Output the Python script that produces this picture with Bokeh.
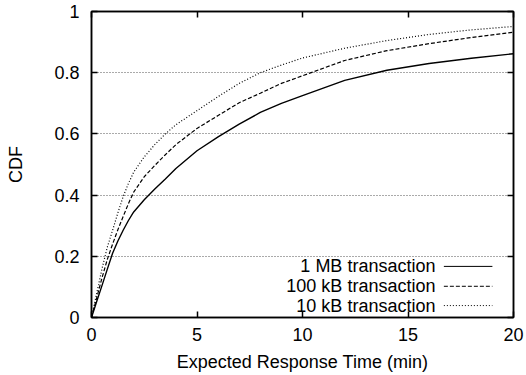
from bokeh.plotting import figure
from bokeh.models import LinearAxis, FixedTicker, Range1d
from bokeh.core.properties import value
from bokeh.embed import file_html
from bokeh.resources import INLINE

# Expected response time (minutes) and CDF values for each transaction size
time_min = [0, 0.25, 0.5, 0.75, 1, 1.25, 1.5, 1.75, 2, 2.5, 3, 3.5, 4,
            5, 6, 7, 8, 9, 10, 12, 14, 16, 18, 20]
cdf_1mb = [0, 0.053, 0.105, 0.158, 0.21, 0.25, 0.285, 0.317, 0.345, 0.385,
           0.42, 0.453, 0.487, 0.545, 0.59, 0.632, 0.67, 0.70, 0.725, 0.775,
           0.808, 0.83, 0.847, 0.862]
cdf_100kb = [0, 0.065, 0.13, 0.19, 0.24, 0.287, 0.33, 0.372, 0.41, 0.46,
             0.497, 0.532, 0.565, 0.618, 0.66, 0.702, 0.733, 0.765, 0.79,
             0.84, 0.872, 0.895, 0.915, 0.932]
cdf_10kb = [0, 0.08, 0.16, 0.23, 0.285, 0.342, 0.395, 0.438, 0.475, 0.525,
            0.565, 0.60, 0.63, 0.676, 0.722, 0.765, 0.80, 0.825, 0.848, 0.88,
            0.905, 0.925, 0.94, 0.951]

series_labels = ["1 MB transaction", "100 kB transaction", "10 kB transaction"]

x_ticks = [0, 5, 10, 15, 20]
x_tick_labels = ["0", "5", "10", "15", "20"]
y_ticks = [0, 0.2, 0.4, 0.6, 0.8, 1]
y_tick_labels = ["0", "0.2", "0.4", "0.6", "0.8", "1"]

FONT = "Liberation Sans"
FS = "18px"

p = figure(
    frame_width=422, frame_height=306,
    x_range=Range1d(0, 20), y_range=Range1d(0, 1),
    output_backend="svg", toolbar_location=None,
    min_border_left=91, min_border_right=13,
    min_border_top=11, min_border_bottom=58,
)
p.background_fill_color = "white"
p.border_fill_color = "white"
p.outline_line_color = "black"
p.outline_line_width = 1.5

# grid: dotted horizontal lines only
p.xgrid.visible = False
p.ygrid.ticker = FixedTicker(ticks=[0.2, 0.4, 0.6, 0.8])
p.ygrid.grid_line_color = "#555555"
p.ygrid.grid_line_dash = "1 2"
p.ygrid.grid_line_width = 1


def style_axis(ax, ticks, labels=None):
    ax.ticker = FixedTicker(ticks=ticks)
    ax.axis_line_color = "black"
    ax.axis_line_width = 1.5
    ax.major_tick_in = 6
    ax.major_tick_out = 0
    ax.major_tick_line_width = 1.5
    ax.minor_tick_line_color = None
    ax.major_label_text_font = FONT
    ax.major_label_text_font_size = FS
    ax.major_label_text_color = "black"
    ax.axis_label_text_font = FONT
    ax.axis_label_text_font_size = FS
    ax.axis_label_text_font_style = "normal"
    ax.axis_label_text_color = "black"
    if labels is not None:
        ax.major_label_overrides = dict(zip(ticks, labels))


xax = p.xaxis[0]
style_axis(xax, x_ticks, x_tick_labels)
xax.axis_label = "Expected Response Time (min)"
xax.major_label_standoff = 10
xax.axis_label_standoff = 8

yax = p.yaxis[0]
style_axis(yax, y_ticks, y_tick_labels)
yax.axis_label = "CDF"
yax.major_label_standoff = 12
yax.axis_label_standoff = 25

# mirrored ticks on the top and right edges, without labels
for loc, ticks in (("above", x_ticks), ("right", y_ticks)):
    ax = LinearAxis()
    style_axis(ax, ticks)
    ax.major_label_text_font_size = "0px"
    ax.major_label_text_color = None
    ax.major_label_standoff = 0
    p.add_layout(ax, loc)

# curves
styles = [
    dict(line_dash="solid", line_width=1.4),
    dict(line_dash="4 2", line_width=1.2),
    dict(line_dash="1 2", line_width=1.2),
]
for ys, st in zip([cdf_1mb, cdf_100kb, cdf_10kb], styles):
    p.line(time_min, ys, line_color="black", **st)

# key in the lower right: label text followed by a line sample
key_text_x = 16.3
key_line_x0, key_line_x1 = 16.7, 19.0
key_rows_y = [0.167, 0.102, 0.039]
for lbl, ky, st in zip(series_labels, key_rows_y, styles):
    p.text(x=[key_text_x], y=[ky], text=[lbl], text_align="right",
           text_baseline="middle", text_font=value(FONT),
           text_font_size=FS, text_color="black")
    p.segment(x0=[key_line_x0], y0=[ky], x1=[key_line_x1], y1=[ky],
              line_color="black", line_dash=st["line_dash"], line_width=1.0)

open("out.html", "w").write(file_html(p, INLINE))
